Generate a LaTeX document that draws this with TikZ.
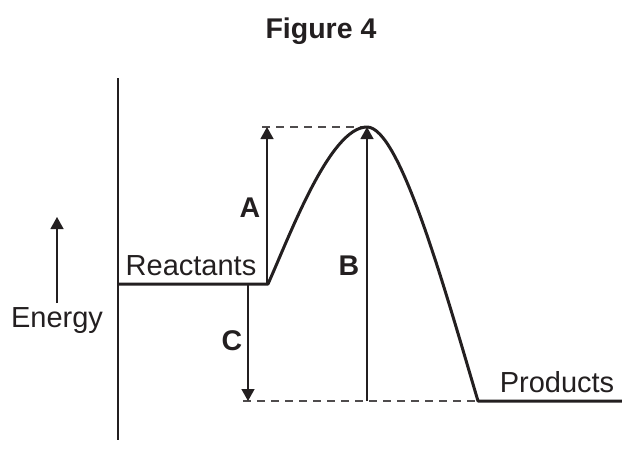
\documentclass[tikz,border=0pt]{standalone}
\usepackage{fontspec}
\setmainfont{Liberation Sans}
\usetikzlibrary{arrows.meta}
\definecolor{ink}{HTML}{231F20}
\begin{document}
\begin{tikzpicture}[x=1pt,y=-1pt,
  lbl/.style={font=\fontsize{29}{33}\selectfont, text=ink, inner sep=0pt, anchor=base},
  blbl/.style={lbl, font=\fontsize{28.5}{33}\selectfont\bfseries},
  thin/.style={draw=ink, line width=1.3pt},
  meas/.style={thin, -{Triangle[length=12pt,width=13pt]}},
  guide/.style={draw=ink!80, line width=1.3pt, dash pattern=on 8pt off 6pt},
  curve/.style={draw=ink, line width=3pt, line join=round}]
\useasboundingbox (0,0) rectangle (622,471);
% key points
\coordinate (axtop) at (118,78);
\coordinate (axbot) at (118,440);
\coordinate (r0) at (118,284);
\coordinate (r1) at (268,284);
\coordinate (peak) at (367,127);
\coordinate (p0) at (478,401);
\coordinate (p1) at (622,401);
\coordinate (dtop) at (262,127);
\coordinate (dbot) at (243,401);
\coordinate (abot) at (267,284);
\coordinate (atop) at (267,127);
\coordinate (bbot) at (367,401);
\coordinate (btop) at (367,127);
\coordinate (ctop) at (248,284);
\coordinate (cbot) at (248,401);
\coordinate (ebot) at (57,303);
\coordinate (etop) at (57,217);
% axis
\draw[thin] (axtop) -- (axbot);
% guides
\draw[guide] (dtop) -- (peak);
\draw[guide] (dbot) -- (p0);
% energy profile
\draw[curve] (r0) -- (r1) .. controls (290,235) and (330,127) .. (peak)
  .. controls (400,127) and (445,290) .. (p0) -- (p1);
% measurement arrows
\draw[meas] (abot) -- (atop);
\draw[meas] (bbot) -- (btop);
\draw[meas] (ctop) -- (cbot);
\draw[meas] (ebot) -- (etop);
% labels
\node[blbl] (title) at (321,38) {Figure 4};
\node[blbl] (la) at (250,217) {A};
\node[blbl] (lb) at (349,275) {B};
\node[blbl] (lc) at (232,350) {C};
\node[lbl] (react) at (191,275) {Reactants};
\node[lbl] (prod) at (557,392) {Products};
\node[lbl] (energy) at (57,327) {Energy};
\end{tikzpicture}
\end{document}
